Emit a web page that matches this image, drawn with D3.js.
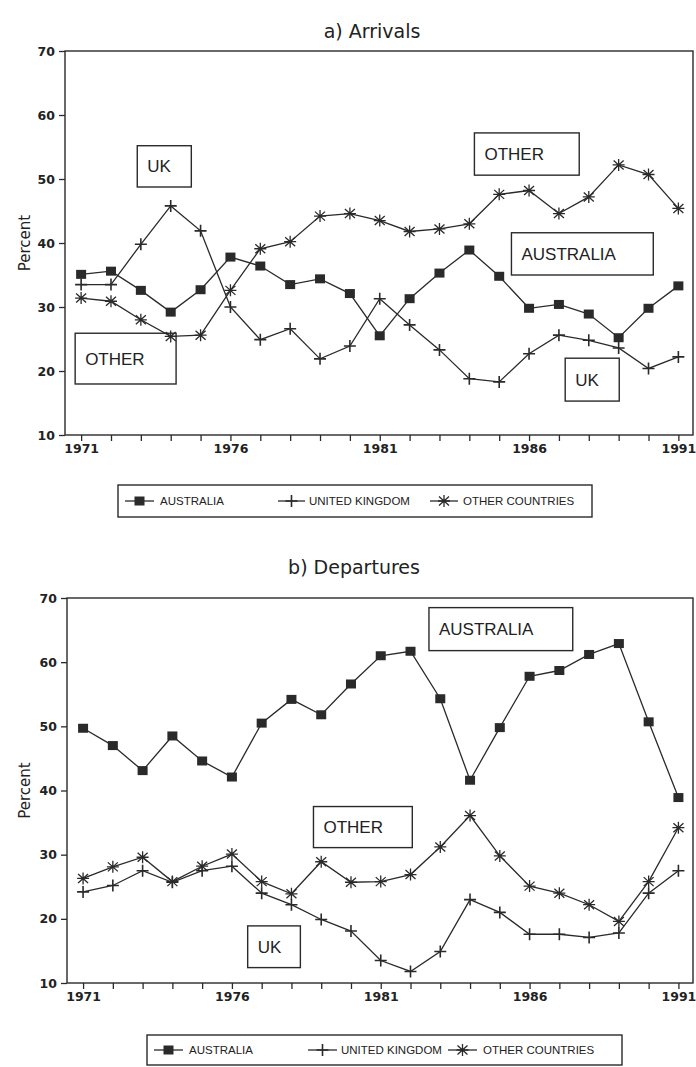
<!DOCTYPE html>
<html><head><meta charset="utf-8">
<script src="https://cdn.jsdelivr.net/npm/d3@7"></script>
<style>body{margin:0;background:#fff}</style>
</head><body>
<svg id="c" width="696" height="1067"></svg>
<script>
const years = d3.range(1971, 1992);
const yTicks = [10, 20, 30, 40, 50, 60, 70];
const xTickLabels = [1971, 1976, 1981, 1986, 1991];
const seriesNames = ["AUSTRALIA", "UNITED KINGDOM", "OTHER COUNTRIES"];

const arrAustralia = [35.1,35.6,32.6,29.2,32.7,37.8,36.4,33.5,34.4,32.1,25.5,31.3,35.3,38.9,34.8,29.8,30.4,28.9,25.2,29.8,33.3];
const arrUK        = [33.5,33.5,39.8,45.8,41.9,30.0,24.9,26.6,21.9,23.9,31.3,27.2,23.3,18.8,18.3,22.7,25.6,24.8,23.6,20.4,22.2];
const arrOther     = [31.4,30.9,28.0,25.4,25.6,32.6,39.1,40.2,44.2,44.6,43.5,41.8,42.2,43.0,47.6,48.2,44.6,47.2,52.2,50.7,45.4];

const depAustralia = [49.7,47.0,43.1,48.5,44.6,42.1,50.5,54.2,51.8,56.6,61.0,61.7,54.3,41.6,49.8,57.8,58.7,61.2,62.9,50.7,38.9];
const depUK        = [24.2,25.2,27.5,25.7,27.5,28.2,24.0,22.2,19.9,18.1,13.5,11.8,14.9,23.0,21.0,17.6,17.6,17.1,17.8,24.0,27.5];
const depOther     = [26.3,28.1,29.6,25.8,28.2,30.1,25.8,23.9,28.9,25.7,25.8,26.9,31.2,36.1,29.8,25.1,24.0,22.2,19.6,25.8,34.2];

const titles = ["a) Arrivals", "b) Departures"];
const boxLabelsA = ["UK", "OTHER", "OTHER", "AUSTRALIA", "UK"];
const boxLabelsB = ["AUSTRALIA", "OTHER", "UK"];

const svg = d3.select("#c");
const ink = "#2a2a2a";
const tickFont = "'DejaVu Sans', sans-serif";
const textFont = "'Liberation Sans', Arial, sans-serif";

function marker(g, type, cx, cy) {
  if (type === 0) {
    g.append("rect").attr("x", cx-5).attr("y", cy-4.5).attr("width", 10).attr("height", 9).attr("fill", ink);
  } else if (type === 1) {
    g.append("path").attr("d", `M${cx-6},${cy}H${cx+6}M${cx},${cy-6}V${cy+6}`).attr("stroke", ink).attr("stroke-width", 1.6);
  } else {
    g.append("path").attr("d", `M${cx-6},${cy}H${cx+6}M${cx},${cy-6}V${cy+6}M${cx-5},${cy-4.5}L${cx+5},${cy+4.5}M${cx-5},${cy+4.5}L${cx+5},${cy-4.5}`)
      .attr("stroke", ink).attr("stroke-width", 1.3);
  }
}

function panel(opts) {
  const {top, bottom, left, title, titleX, titleY, series, boxes, legend} = opts;
  const x = d3.scaleLinear().domain([1970.46, 1991.49]).range([left, 693]);
  const y = d3.scaleLinear().domain([10, 70]).range([bottom, top]);
  const g = svg.append("g");

  g.append("text").attr("x", titleX).attr("y", titleY).attr("text-anchor", "middle")
    .attr("font-family", "'DejaVu Sans', sans-serif").attr("font-size", 19)
    .attr("fill", "#222").text(title);

  g.append("rect").attr("x", x.range()[0]).attr("y", top).attr("width", x.range()[1]-x.range()[0])
    .attr("height", bottom-top).attr("fill", "none").attr("stroke", ink).attr("stroke-width", 1.4);

  const ya = g.append("g").attr("transform", `translate(${x.range()[0]},0)`)
    .call(d3.axisLeft(y).tickValues(yTicks).tickSize(6).tickPadding(4).tickFormat(d3.format("d")));
  ya.select(".domain").remove();
  ya.selectAll("line").attr("stroke", ink).attr("stroke-width", 1.3);
  ya.selectAll("text").attr("font-family", tickFont).attr("font-weight", "bold").attr("font-size", 12.5).attr("fill", "#222");

  const xa = g.append("g").attr("transform", `translate(0,${bottom})`)
    .call(d3.axisBottom(x).tickValues(years).tickSize(6).tickPadding(3)
      .tickFormat(d => xTickLabels.includes(d) ? String(d) : ""));
  xa.select(".domain").remove();
  xa.selectAll("line").attr("stroke", ink).attr("stroke-width", 1.3);
  xa.selectAll("text").attr("font-family", tickFont).attr("font-weight", "bold").attr("font-size", 12.5).attr("fill", "#222");

  g.append("text").attr("transform", `translate(30,${(top+bottom)/2}) rotate(-90)`)
    .attr("text-anchor", "middle").attr("font-family", "'DejaVu Sans', sans-serif").attr("font-size", 15)
    .attr("fill", "#222").text("Percent");

  const line = d3.line().x((d, i) => x(years[i])).y(d => y(d));
  series.forEach((vals) => {
    g.append("path").datum(vals).attr("d", line).attr("fill", "none").attr("stroke", ink).attr("stroke-width", 1.3);
  });
  series.forEach((vals, si) => {
    vals.forEach((v, i) => marker(g, si, x(years[i]), y(v)));
  });

  boxes.forEach(b => {
    const x0 = x(b.x0), x1 = x(b.x1), y0 = y(b.y0), y1 = y(b.y1);
    g.append("rect").attr("x", x0).attr("y", y0).attr("width", x1-x0).attr("height", y1-y0)
      .attr("fill", "none").attr("stroke", ink).attr("stroke-width", 1.4);
    g.append("text").attr("x", x0 + 10).attr("y", (y0+y1)/2 + 6)
      .attr("font-family", textFont).attr("font-size", 17).attr("fill", "#222").text(b.label);
  });

  const L = legend;
  g.append("rect").attr("x", L.x0).attr("y", L.y0).attr("width", L.x1-L.x0).attr("height", L.y1-L.y0)
    .attr("fill", "none").attr("stroke", ink).attr("stroke-width", 1.4);
  const cy = (L.y0 + L.y1) / 2;
  L.items.forEach((it, i) => {
    g.append("line").attr("x1", it.m0).attr("x2", it.m1).attr("y1", cy).attr("y2", cy).attr("stroke", ink).attr("stroke-width", 1.3);
    marker(g, i, (it.m0+it.m1)/2, cy);
    g.append("text").attr("x", it.t).attr("y", cy + 4).attr("font-family", textFont).attr("font-size", 11.5)
      .attr("fill", "#222").text(seriesNames[i]);
  });
}

panel({
  top: 51, bottom: 435, left: 65, title: titles[0], titleX: 372, titleY: 38,
  series: [arrAustralia, arrUK, arrOther],
  boxes: [
    {label: boxLabelsA[0], x0: 1972.88, x1: 1974.69, y0: 55.2, y1: 48.75},
    {label: boxLabelsA[1], x0: 1970.80, x1: 1974.18, y0: 25.9, y1: 17.97},
    {label: boxLabelsA[2], x0: 1984.17, x1: 1987.68, y0: 57.2, y1: 50.6},
    {label: boxLabelsA[3], x0: 1985.41, x1: 1990.16, y0: 41.6, y1: 35.0},
    {label: boxLabelsA[4], x0: 1987.21, x1: 1989.02, y0: 22.0, y1: 15.3}
  ],
  legend: {x0: 118, x1: 592, y0: 485, y1: 517,
    items: [{m0: 125, m1: 154, t: 160}, {m0: 278, m1: 305, t: 309}, {m0: 430, m1: 458, t: 463}]}
});

panel({
  top: 598, bottom: 983, left: 67, title: titles[1], titleX: 354, titleY: 574,
  series: [depAustralia, depUK, depOther],
  boxes: [
    {label: boxLabelsB[0], x0: 1982.62, x1: 1987.45, y0: 68.5, y1: 61.8},
    {label: boxLabelsB[1], x0: 1978.74, x1: 1982.06, y0: 37.5, y1: 31.1},
    {label: boxLabelsB[2], x0: 1976.53, x1: 1978.30, y0: 18.9, y1: 12.4}
  ],
  legend: {x0: 147, x1: 622, y0: 1035, y1: 1065,
    items: [{m0: 154, m1: 183, t: 189}, {m0: 308, m1: 337, t: 341}, {m0: 448, m1: 477, t: 483}]}
});
</script>
</body></html>
